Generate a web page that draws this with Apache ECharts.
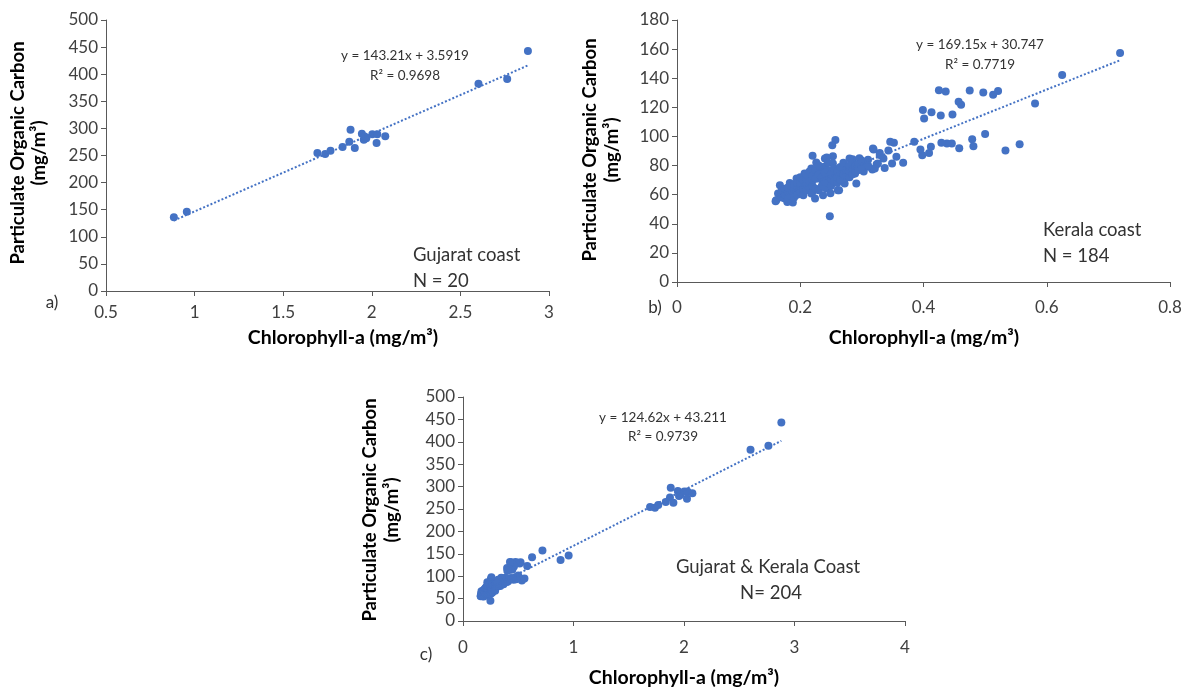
<!DOCTYPE html>
<html>
<head>
<meta charset="utf-8">
<script src="https://cdn.jsdelivr.net/npm/echarts@6/dist/echarts.min.js"></script>
<style>
html,body{margin:0;padding:0;background:#fff;}
#chart{width:1195px;height:691px;}
</style>
</head>
<body>
<div id="chart"></div>
<script>
// ---------- DATA ----------
const gujaratPoints = [
  [0.883,136],[0.956,146],[1.693,254.6],[1.737,252.8],[1.767,258.9],[1.835,265.7],
  [1.873,275.5],[1.880,297.6],[1.904,263.8],[1.944,290.2],[1.955,279.2],[1.969,281.7],
  [1.960,285],[2.003,289.1],[2.031,289.1],[2.027,273],[2.076,285.4],[2.602,382.5],
  [2.764,391],[2.881,443]
];
const keralaOuter = [
  [0.719,157.3],[0.625,142.2],[0.581,122.7],[0.556,94.7],[0.533,90.3],[0.521,131.2],
  [0.513,128.6],[0.497,130.2],[0.475,131.6],[0.500,101.6],[0.479,98.1],[0.481,93.3],
  [0.458,91.9],[0.461,121.8],[0.457,123.8],[0.447,115.1],[0.446,95.2],[0.438,95.2],
  [0.429,95.6],[0.436,130.9],[0.425,131.8],[0.428,114.4],[0.413,116.7],[0.399,118.1],
  [0.401,112.4],[0.412,92.9],[0.409,88.7],[0.398,87.1],[0.395,91.0],[0.385,96.3],
  [0.367,81.9],[0.356,86.0],[0.352,95.6],[0.346,96.3],[0.349,81.4],[0.343,90.3],
  [0.337,78.4],[0.329,88.7],[0.335,84.8],[0.319,91.0],[0.317,77.3],[0.324,80.9],
  [0.257,97.5],[0.252,94.0],[0.248,45.2],[0.220,86.7],[0.253,86.4],[0.240,84.8],
  [0.160,55.5],[0.188,54.6],[0.179,55.0],[0.167,66.5],[0.183,68.1],[0.263,63.1],
  [0.291,67.6],[0.285,84.4],[0.299,83.7],[0.307,80.9]
];
const keralaCluster = [
  [0.226,82.1],[0.243,85.6],[0.253,81.4],[0.239,79.1],[0.232,75.7],[0.213,73.4],
  [0.202,70.0],[0.207,66.5],[0.218,60.8],[0.224,57.4],[0.205,59.6],[0.197,63.1],
  [0.164,60.8],[0.161,56.2],[0.175,57.4],[0.183,61.9],[0.174,62.0],[0.190,61.0],
  [0.235,70.0],[0.245,72.2],[0.251,67.7],[0.243,64.3],[0.237,59.6],[0.249,61.0],
  [0.261,63.1],[0.264,74.6],[0.272,76.8],[0.278,72.2],[0.286,81.4],[0.294,79.1],
  [0.305,81.4],[0.310,79.1],[0.318,91.8],[0.321,78.0],[0.329,87.2],[0.326,81.4],
  [0.280,84.9],[0.270,79.1],[0.259,75.7],[0.272,67.7],[0.267,70.0],[0.256,71.0],
  [0.229,72.2],[0.218,78.0],[0.207,74.6],[0.194,71.1],[0.289,74.6],[0.303,76.0],
  [0.296,85.0]
];
const keralaCore = [
  [0.170,58],[0.170,61],[0.170,63],[0.175,60],[0.175,64],[0.180,57],[0.180,62],[0.180,65],
  [0.185,59],[0.185,63],[0.185,66],[0.190,58],[0.190,64],[0.190,67],[0.195,60],[0.195,65],
  [0.195,68],[0.200,62],[0.200,66],[0.200,68],[0.200,72],[0.205,61],[0.205,64],[0.205,70],
  [0.210,63],[0.210,67],[0.210,71],[0.210,74],[0.215,65],[0.215,69],[0.215,76],[0.220,62],
  [0.220,66],[0.220,70],[0.220,73],[0.225,64],[0.225,71],[0.225,77],[0.230,63],[0.230,74],
  [0.230,80],[0.235,66],[0.235,72],[0.240,65],[0.240,69],[0.240,75],[0.245,68],[0.245,77],
  [0.245,82],[0.250,66],[0.250,71],[0.250,74],[0.255,69],[0.255,78],[0.260,68],[0.260,72],
  [0.260,76],[0.265,70],[0.265,79],[0.270,71],[0.270,74],[0.270,82],[0.275,73],[0.275,77],
  [0.280,72],[0.280,76],[0.280,80],[0.285,74],[0.285,78],[0.290,76],[0.290,80],[0.295,77],
  [0.295,81],[0.300,79],[0.300,83],[0.310,80],[0.310,84]
];
const keralaPoints = keralaOuter.concat(keralaCluster, keralaCore);
const combinedPoints = gujaratPoints.concat(keralaPoints);

// trendline coefficients [slope, intercept] and x-range
const trendA = {slope:143.21, intercept:3.5919, xr:[0.883,2.881]};
const trendB = {slope:169.15, intercept:30.747, xr:[0.160,0.719]};
const trendC = {slope:124.62, intercept:43.211, xr:[0.160,2.881]};

const yTitle1 = 'Particulate Organic Carbon';
const yTitle2 = '(mg/m³)';
const xTitle = 'Chlorophyll-a (mg/m³)';

// ---------- CHART ----------
const FONT = 'Lato, "Open Sans", sans-serif';
const BLUE = '#4472C4';
const AX = '#595959';
const LBL = '#404040';

function tl(t){ return t.xr.map(x => [x, t.slope*x + t.intercept]); }

function xAx(grid,min,max,interval,margin){
  return {gridIndex:grid,type:'value',min:min,max:max,interval:interval,
    axisLine:{show:true,onZero:false,lineStyle:{color:AX,width:1}},
    axisTick:{show:true,length:5,lineStyle:{color:AX}},
    splitLine:{show:false},
    axisLabel:{color:LBL,fontFamily:FONT,fontSize:17,margin:margin,
      formatter:v=>String(Math.round(v*1000)/1000)}};
}
function yAx(grid,min,max,interval){
  return {gridIndex:grid,type:'value',min:min,max:max,interval:interval,
    axisLine:{show:true,lineStyle:{color:AX,width:1}},
    axisTick:{show:true,length:5,lineStyle:{color:AX}},
    splitLine:{show:false},
    axisLabel:{color:LBL,fontFamily:FONT,fontSize:17,margin:8}};
}
function scat(i,data){
  return {type:'scatter',xAxisIndex:i,yAxisIndex:i,data:data,symbolSize:8,
    itemStyle:{color:BLUE,opacity:1},silent:true};
}
function trend(i,t){
  return {type:'line',xAxisIndex:i,yAxisIndex:i,data:tl(t),showSymbol:false,symbol:'none',
    lineStyle:{color:BLUE,width:2,type:[2,2]},silent:true,z:3};
}
function txt(x,y,text,size,opts){
  opts = opts||{};
  return {type:'text',x:x,y:y,rotation:opts.rot||0,silent:true,z:100,
    style:{text:text,fill:opts.fill||'#000',font:(opts.bold?'bold ':'')+size+'px '+FONT,
      align:opts.align||'center',verticalAlign:'middle'}};
}

const chart = echarts.init(document.getElementById('chart'),null,{renderer:'canvas'});
chart.setOption({
  animation:false,
  backgroundColor:'#fff',
  grid:[
    {left:106,top:20,width:443,height:271},
    {left:677,top:20,width:493,height:262},
    {left:463,top:397,width:442,height:224}
  ],
  xAxis:[xAx(0,0.5,3,0.5,13),xAx(1,0,0.8,0.2,17),xAx(2,0,4,1,18)],
  yAxis:[yAx(0,0,500,50),yAx(1,0,180,20),yAx(2,0,500,50)],
  series:[
    scat(0,gujaratPoints),trend(0,trendA),
    scat(1,keralaPoints),trend(1,trendB),
    scat(2,combinedPoints),trend(2,trendC)
  ],
  graphic:[
    // panel a
    txt(18,153,yTitle1,18.5,{bold:true,rot:Math.PI/2}),
    txt(39,153,yTitle2,18.5,{bold:true,rot:Math.PI/2}),
    txt(343,338,xTitle,19.5,{bold:true}),
    txt(52,303,'a)',17,{fill:'#333'}),
    txt(405,56,'y = 143.21x + 3.5919',13.5,{fill:'#333'}),
    txt(405,76,'R² = 0.9698',13.5,{fill:'#333'}),
    txt(413,255,'Gujarat coast',18.5,{align:'left',fill:'#333'}),
    txt(413,281,'N = 20',18.5,{align:'left',fill:'#333'}),
    // panel b
    txt(590,150,yTitle1,18.5,{bold:true,rot:Math.PI/2}),
    txt(612,150,yTitle2,18.5,{bold:true,rot:Math.PI/2}),
    txt(924,338,xTitle,19.5,{bold:true}),
    txt(655,308,'b)',17,{fill:'#333'}),
    txt(980,45,'y = 169.15x + 30.747',13.5,{fill:'#333'}),
    txt(980,65,'R² = 0.7719',13.5,{fill:'#333'}),
    txt(1043,230,'Kerala coast',18.5,{align:'left',fill:'#333'}),
    txt(1043,256,'N = 184',18.5,{align:'left',fill:'#333'}),
    // panel c
    txt(370,510,yTitle1,18.5,{bold:true,rot:Math.PI/2}),
    txt(392,510,yTitle2,18.5,{bold:true,rot:Math.PI/2}),
    txt(684,678,xTitle,19.5,{bold:true}),
    txt(426,655,'c)',17,{fill:'#333'}),
    txt(663,418,'y = 124.62x + 43.211',13.5,{fill:'#333'}),
    txt(663,437,'R² = 0.9739',13.5,{fill:'#333'}),
    txt(768,567,'Gujarat & Kerala Coast',18.5,{fill:'#333'}),
    txt(771,593,'N= 204',18.5,{fill:'#333'})
  ]
});
</script>
</body>
</html>
